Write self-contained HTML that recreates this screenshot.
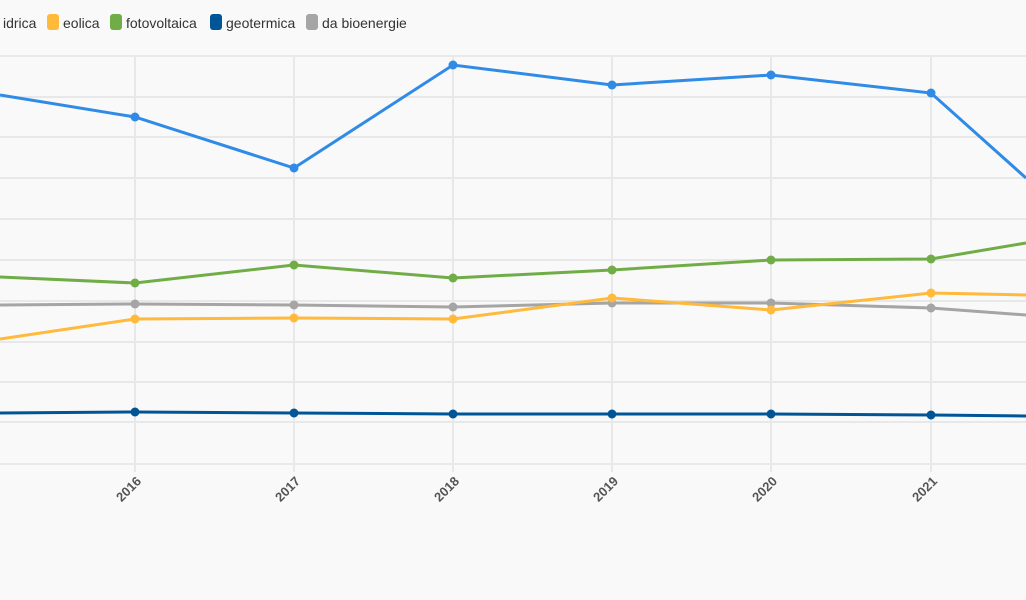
<!DOCTYPE html><html><head><style>body{margin:0;background:#f9f9f9}svg{display:block}text{font-family:"Liberation Sans",sans-serif}</style></head><body>
<svg width="1026" height="600" viewBox="0 0 1026 600">
<rect width="1026" height="600" fill="#f9f9f9"/>
<g stroke="#e8e8e8" stroke-width="2">
<line x1="0" y1="56" x2="1026" y2="56"/><line x1="0" y1="97" x2="1026" y2="97"/><line x1="0" y1="137" x2="1026" y2="137"/><line x1="0" y1="178" x2="1026" y2="178"/><line x1="0" y1="219" x2="1026" y2="219"/><line x1="0" y1="260" x2="1026" y2="260"/><line x1="0" y1="301" x2="1026" y2="301"/><line x1="0" y1="342" x2="1026" y2="342"/><line x1="0" y1="382" x2="1026" y2="382"/><line x1="0" y1="422" x2="1026" y2="422"/><line x1="0" y1="464" x2="1026" y2="464"/>
<line x1="135" y1="56" x2="135" y2="472"/><line x1="294" y1="56" x2="294" y2="472"/><line x1="453" y1="56" x2="453" y2="472"/><line x1="612" y1="56" x2="612" y2="472"/><line x1="771" y1="56" x2="771" y2="472"/><line x1="931" y1="56" x2="931" y2="472"/>
</g>
<g font-size="13" fill="#555" font-weight="bold" text-anchor="end">
<text transform="translate(142,482) rotate(-45)">2016</text>
<text transform="translate(301,482) rotate(-45)">2017</text>
<text transform="translate(460,482) rotate(-45)">2018</text>
<text transform="translate(619,482) rotate(-45)">2019</text>
<text transform="translate(778,482) rotate(-45)">2020</text>
<text transform="translate(938,482) rotate(-45)">2021</text>
</g>
<g fill="none" stroke-width="3">
<polyline stroke="#2f8be6" points="0,95 135,117 294,168 453,65 612,85 771,75 931,93 1026,178"/>
<polyline stroke="#70ad47" points="0,277 135,283 294,265 453,278 612,270 771,260 931,259 1026,243"/>
<polyline stroke="#a5a5a5" points="0,305 135,304 294,305 453,307 612,303 771,303 931,308 1026,315"/>
<polyline stroke="#ffb93b" points="0,339 135,319 294,318 453,319 612,298 771,310 931,293 1026,295"/>
<polyline stroke="#005597" points="0,413 135,412 294,413 453,414 612,414 771,414 931,415 1026,416"/>
</g>
<g fill="#2f8be6"><circle cx="135" cy="117" r="4.5"/><circle cx="294" cy="168" r="4.5"/><circle cx="453" cy="65" r="4.5"/><circle cx="612" cy="85" r="4.5"/><circle cx="771" cy="75" r="4.5"/><circle cx="931" cy="93" r="4.5"/></g>
<g fill="#70ad47"><circle cx="135" cy="283" r="4.5"/><circle cx="294" cy="265" r="4.5"/><circle cx="453" cy="278" r="4.5"/><circle cx="612" cy="270" r="4.5"/><circle cx="771" cy="260" r="4.5"/><circle cx="931" cy="259" r="4.5"/></g>
<g fill="#a5a5a5"><circle cx="135" cy="304" r="4.5"/><circle cx="294" cy="305" r="4.5"/><circle cx="453" cy="307" r="4.5"/><circle cx="612" cy="303" r="4.5"/><circle cx="771" cy="303" r="4.5"/><circle cx="931" cy="308" r="4.5"/></g>
<g fill="#ffb93b"><circle cx="135" cy="319" r="4.5"/><circle cx="294" cy="318" r="4.5"/><circle cx="453" cy="319" r="4.5"/><circle cx="612" cy="298" r="4.5"/><circle cx="771" cy="310" r="4.5"/><circle cx="931" cy="293" r="4.5"/></g>
<g fill="#005597"><circle cx="135" cy="412" r="4.5"/><circle cx="294" cy="413" r="4.5"/><circle cx="453" cy="414" r="4.5"/><circle cx="612" cy="414" r="4.5"/><circle cx="771" cy="414" r="4.5"/><circle cx="931" cy="415" r="4.5"/></g>
<g font-size="14" fill="#333">
<text x="3" y="28">idrica</text>
<rect x="47" y="14" width="12" height="16" rx="3" fill="#ffb93b"/><text x="63" y="28">eolica</text>
<rect x="110" y="14" width="12" height="16" rx="3" fill="#70ad47"/><text x="126" y="28">fotovoltaica</text>
<rect x="210" y="14" width="12" height="16" rx="3" fill="#005597"/><text x="226" y="28">geotermica</text>
<rect x="306" y="14" width="12" height="16" rx="3" fill="#a5a5a5"/><text x="322" y="28">da bioenergie</text>
</g>
</svg></body></html>
